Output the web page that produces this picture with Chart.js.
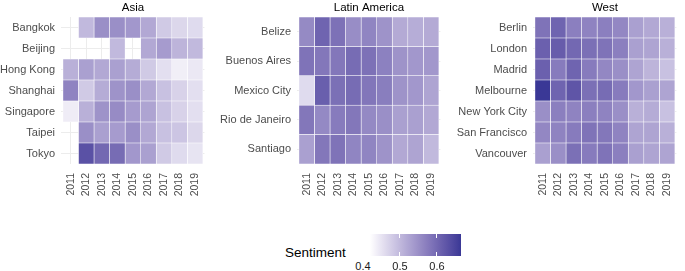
<!DOCTYPE html>
<html>
<head>
<meta charset="utf-8">
<script src="https://cdn.jsdelivr.net/npm/chart.js@4.4.1/dist/chart.umd.min.js"></script>
<style>
  html, body { margin: 0; padding: 0; background: #fff; }
  body { width: 685px; height: 271px; position: relative; overflow: hidden; font-family: "Liberation Sans", Arial, sans-serif; }
  canvas { position: absolute; top: 0; }
  #legTitle { position: absolute; left: 285px; top: 245px; font-size: 13.5px; color: #000; white-space: nowrap; }
  #legBar { position: absolute; left: 370px; top: 234px; width: 91px; height: 22px; }
  .legTick { position: absolute; width: 1px; height: 4px; background: #fff; }
  .legLab { position: absolute; top: 260px; font-size: 11px; color: #1a1a1a; transform: translateX(-50%); white-space: nowrap; }
</style>
</head>
<body>
<canvas id="cAsia"></canvas>
<canvas id="cLatin"></canvas>
<canvas id="cWest"></canvas>
<div id="legTitle">Sentiment</div>
<div id="legBar"></div>
<script>
// ---------- DATA ----------
const years = ["2011","2012","2013","2014","2015","2016","2017","2018","2019"];

const asiaCities = ["Bangkok","Beijing","Hong Kong","Shanghai","Singapore","Taipei","Tokyo"];
const asiaValues = [
  [null, 0.500, 0.550, 0.550, 0.540, 0.520, 0.480, 0.465, 0.460],
  [null, null,  null,  0.500, null,  0.520, 0.535, 0.505, 0.500],
  [0.510, 0.530, 0.520, 0.530, 0.515, 0.480, 0.455, 0.437, 0.445],
  [0.565, 0.480, 0.515, 0.545, 0.550, 0.520, 0.490, 0.470, 0.455],
  [0.440, 0.510, 0.545, 0.555, 0.535, 0.525, 0.490, 0.470, 0.455],
  [null, 0.550, 0.530, 0.535, 0.550, 0.520, 0.490, 0.485, 0.465],
  [null, 0.630, 0.600, 0.595, 0.540, 0.530, 0.480, 0.460, 0.450]
];

const latinCities = ["Belize","Buenos Aires","Mexico City","Rio de Janeiro","Santiago"];
const latinValues = [
  [0.557, 0.605, 0.588, 0.553, 0.563, 0.545, 0.517, 0.514, 0.517],
  [0.585, 0.580, 0.580, 0.595, 0.588, 0.568, 0.545, 0.540, 0.540],
  [0.460, 0.612, 0.590, 0.595, 0.582, 0.572, 0.545, 0.540, 0.525],
  [0.580, 0.558, 0.575, 0.580, 0.558, 0.550, 0.530, 0.530, 0.520],
  [0.530, 0.580, 0.585, 0.563, 0.563, 0.545, 0.520, 0.525, 0.500]
];

const westCities = ["Berlin","London","Madrid","Melbourne","New York City","San Francisco","Vancouver"];
const westValues = [
  [0.585, 0.605, 0.570, 0.565, 0.570, 0.560, 0.530, 0.520, 0.510],
  [0.610, 0.615, 0.600, 0.590, 0.585, 0.570, 0.530, 0.525, 0.510],
  [0.610, 0.575, 0.605, 0.575, 0.560, 0.550, 0.525, 0.505, 0.490],
  [0.665, 0.605, 0.625, 0.590, 0.595, 0.575, 0.540, 0.530, 0.525],
  [0.550, 0.570, 0.565, 0.570, 0.565, 0.550, 0.510, 0.515, 0.490],
  [0.560, 0.565, 0.575, 0.585, 0.580, 0.565, 0.525, 0.525, 0.510],
  [0.530, 0.550, 0.590, 0.575, 0.585, 0.570, 0.530, 0.525, 0.525]
];

const legendTicks = [0.4, 0.5, 0.6];
const scaleMin = 0.419, scaleMax = 0.665;

// ---------- COLOR (Lab interpolation, white -> dark blue-purple) ----------
const lowRGB = [255,255,255], highRGB = [58,56,150];
function s2l(c){c/=255;return c<=0.04045?c/12.92:Math.pow((c+0.055)/1.055,2.4);}
function l2s(c){const v=c<=0.0031308?12.92*c:1.055*Math.pow(c,1/2.4)-0.055;return Math.round(Math.max(0,Math.min(1,v))*255);}
function rgb2lab(rgb){const R=s2l(rgb[0]),G=s2l(rgb[1]),B=s2l(rgb[2]);
  const X=(0.4124*R+0.3576*G+0.1805*B)/0.95047,Y=0.2126*R+0.7152*G+0.0722*B,Z=(0.0193*R+0.1192*G+0.9505*B)/1.08883;
  const f=t=>t>0.008856?Math.cbrt(t):7.787*t+16/116;const fx=f(X),fy=f(Y),fz=f(Z);
  return [116*fy-16,500*(fx-fy),200*(fy-fz)];}
function lab2rgb(lab){const fy=(lab[0]+16)/116,fx=fy+lab[1]/500,fz=fy-lab[2]/200;
  const fi=t=>t*t*t>0.008856?t*t*t:(t-16/116)/7.787;
  const X=fi(fx)*0.95047,Y=fi(fy),Z=fi(fz)*1.08883;
  return [l2s(3.2406*X-1.5372*Y-0.4986*Z),l2s(-0.9689*X+1.8758*Y+0.0415*Z),l2s(0.0557*X-0.2040*Y+1.0570*Z)];}
const lowLab = rgb2lab(lowRGB), highLab = rgb2lab(highRGB);
function colorFor(v){
  const t=Math.max(0,Math.min(1,(v-scaleMin)/(scaleMax-scaleMin)));
  const lab=[0,1,2].map(k=>lowLab[k]+(highLab[k]-lowLab[k])*t);
  const c=lab2rgb(lab);return `rgb(${c[0]},${c[1]},${c[2]})`;
}

// ---------- PANELS ----------
const FONT = '"Liberation Sans", Arial, sans-serif';
const tileW = 148, leftSpace = 90, canvasW = 244, canvasH = 200;
const xMin = 0.4, xMax = 9.6;

// panel title centred over the plotting area (like a ggplot facet strip)
const panelTitle = {
  id: 'panelTitle',
  afterDraw(chart, args, opts) {
    const { ctx, chartArea } = chart;
    ctx.save();
    ctx.fillStyle = '#000';
    ctx.font = '11.5px ' + FONT;
    ctx.textAlign = 'center';
    ctx.textBaseline = 'middle';
    ctx.fillText(opts.text, (chartArea.left + chartArea.right) / 2, 7.5);
    ctx.restore();
  }
};

function makePanel(id, title, tileLeft, cities, values){
  const cv = document.getElementById(id);
  cv.width = canvasW; cv.height = canvasH;
  cv.style.left = (tileLeft - leftSpace) + 'px';
  cv.style.width = canvasW + 'px'; cv.style.height = canvasH + 'px';
  const areaW = tileW * (xMax - xMin) / years.length;
  const margin = (areaW - tileW) / 2;
  const yAxisW = leftSpace - margin;
  const rightPad = canvasW - leftSpace - tileW - margin;

  const datasets = years.map((yr, j) => ({
    label: yr,
    data: cities.map((c, i) => values[i][j] == null ? null : [j + 0.5, j + 1.5]),
    backgroundColor: cities.map((c, i) => values[i][j] == null ? 'rgba(0,0,0,0)' : colorFor(values[i][j])),
    borderColor: '#ffffff',
    borderWidth: 0.6,
    borderSkipped: false,
    grouped: false,
    barPercentage: 1,
    categoryPercentage: 1
  }));

  new Chart(cv, {
    type: 'bar',
    data: { labels: cities, datasets },
    plugins: [panelTitle],
    options: {
      indexAxis: 'y',
      responsive: false,
      animation: false,
      devicePixelRatio: 1,
      layout: { padding: { left: 0, right: rightPad, top: 17, bottom: 0 } },
      plugins: {
        legend: { display: false },
        tooltip: { enabled: false },
        title: { display: false },
        panelTitle: { text: title }
      },
      scales: {
        x: {
          type: 'linear', min: xMin, max: xMax,
          afterBuildTicks: s => { s.ticks = years.map((y, j) => ({ value: j + 1 })); },
          ticks: { callback: v => years[Math.round(v) - 1], minRotation: 90, maxRotation: 90, autoSkip: false, padding: 9, color: '#4d4d4d', font: { family: FONT, size: 10.5 } },
          grid: { color: '#ececec', lineWidth: 1, drawTicks: false },
          border: { display: false },
          afterFit: s => { s.height = canvasH - 164; }
        },
        y: {
          type: 'category',
          offset: true,
          ticks: { padding: 8 - margin, color: '#4d4d4d', font: { family: FONT, size: 11 } },
          grid: { color: '#ececec', lineWidth: 1, drawTicks: false, offset: false },
          border: { display: false },
          afterFit: s => { s.width = yAxisW; }
        }
      }
    }
  });
}

makePanel('cAsia', 'Asia', 63, asiaCities, asiaValues);
makePanel('cLatin', 'Latin America', 299, latinCities, latinValues);
makePanel('cWest', 'West', 535, westCities, westValues);

// ---------- LEGEND (colorbar) ----------
const bar = document.getElementById('legBar');
const barLeft = 370, barW = 91, barTop = 234, barH = 22;
const stops = [];
for (let k = 0; k <= 20; k++) { const v = scaleMin + (scaleMax - scaleMin) * k / 20; stops.push(colorFor(v) + ' ' + (k * 5) + '%'); }
bar.style.background = 'linear-gradient(to right, ' + stops.join(', ') + ')';
legendTicks.forEach(v => {
  const x = barLeft + (v - scaleMin) / (scaleMax - scaleMin) * barW;
  if (v > scaleMin && v < scaleMax) {
    [barTop, barTop + barH - 4].forEach(ty => {
      const t = document.createElement('div'); t.className = 'legTick';
      t.style.left = (x - 0.5) + 'px'; t.style.top = ty + 'px'; document.body.appendChild(t);
    });
  }
  const l = document.createElement('div'); l.className = 'legLab';
  l.style.left = x + 'px'; l.textContent = v.toFixed(1); document.body.appendChild(l);
});
</script>
</body>
</html>
